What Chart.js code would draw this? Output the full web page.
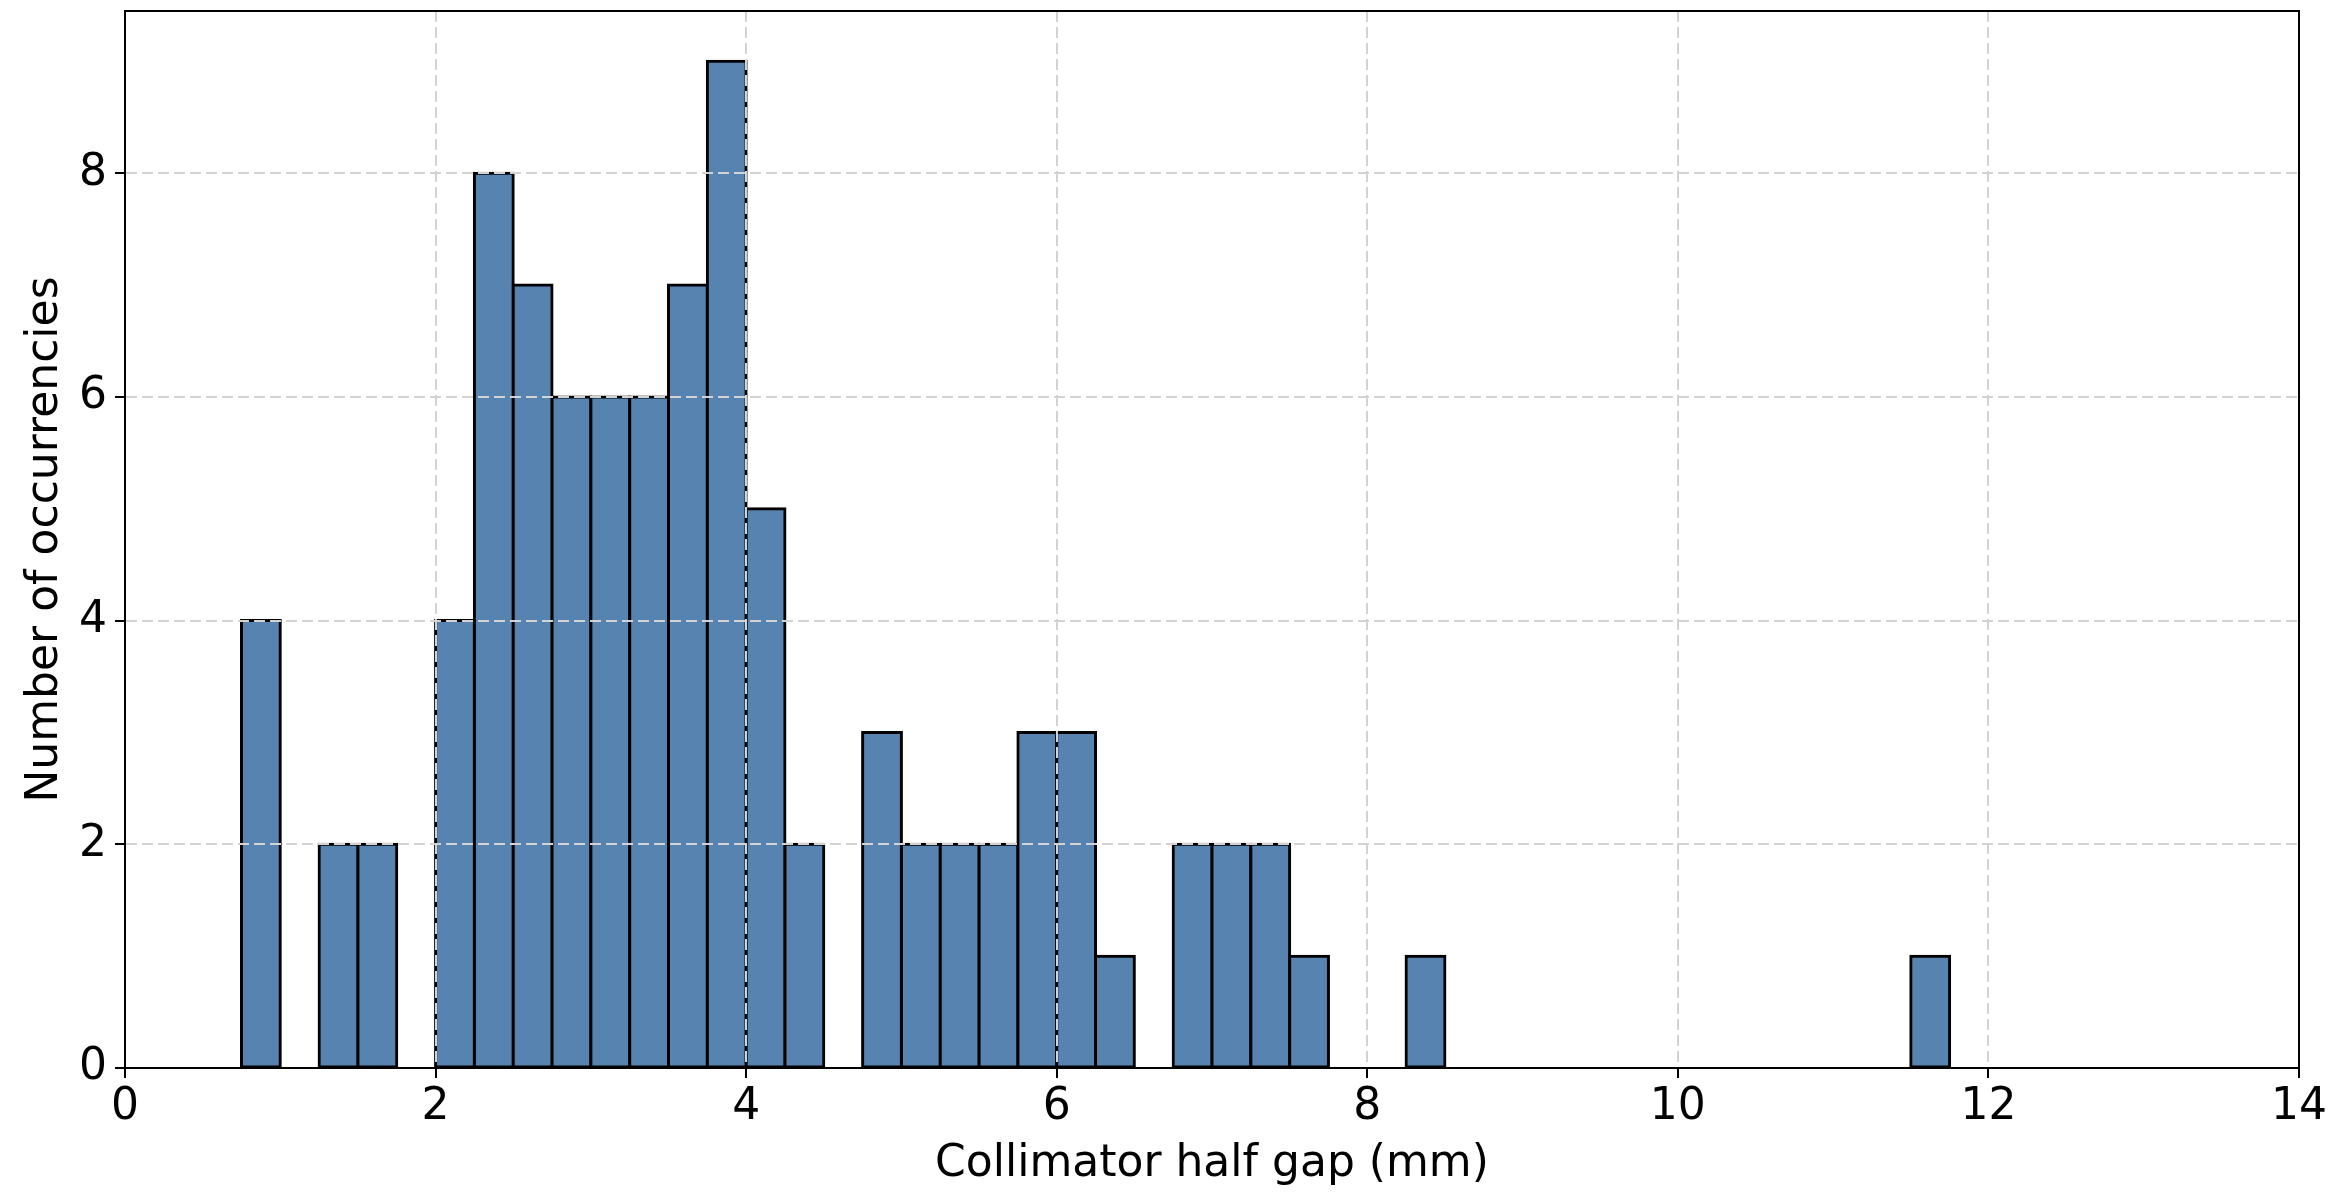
<!DOCTYPE html>
<html>
<head>
<meta charset="utf-8">
<script src="https://cdn.jsdelivr.net/npm/chart.js@4/dist/chart.umd.min.js"></script>
<style>
  html, body { margin: 0; padding: 0; background: #ffffff; }
  #wrap { width: 2330px; height: 1194px; }
</style>
</head>
<body>
<div id="wrap"><canvas id="c" width="2330" height="1194"></canvas></div>
<script>
// Histogram bins (width 0.25 mm), given by bin centres
const binCenters = [
  0.875, 1.125, 1.375, 1.625, 1.875, 2.125, 2.375, 2.625, 2.875, 3.125,
  3.375, 3.625, 3.875, 4.125, 4.375, 4.625, 4.875, 5.125, 5.375, 5.625,
  5.875, 6.125, 6.375, 6.625, 6.875, 7.125, 7.375, 7.625, 7.875, 8.125,
  8.375, 8.625, 8.875, 9.125, 9.375, 9.625, 9.875, 10.125, 10.375, 10.625,
  10.875, 11.125, 11.375, 11.625
];
const counts = [
  4, 0, 2, 2, 0, 4, 8, 7, 6, 6,
  6, 7, 9, 5, 2, 0, 3, 2, 2, 2,
  3, 3, 1, 0, 2, 2, 2, 1, 0, 0,
  1, 0, 0, 0, 0, 0, 0, 0, 0, 0,
  0, 0, 0, 1
];
const xTicks = [0, 2, 4, 6, 8, 10, 12, 14];
const yTicks = [0, 2, 4, 6, 8];
const xTitle = 'Collimator half gap (mm)';
const yTitle = 'Number of occurrencies';

const FONT = "'DejaVu Sans', 'Liberation Sans', sans-serif";
const points = binCenters.map((x, i) => ({ x: x, y: counts[i] }));

const framePlugin = {
  id: 'frame',
  afterDraw(chart) {
    const a = chart.chartArea, ctx = chart.ctx;
    ctx.save();
    ctx.strokeStyle = '#000000';
    ctx.lineWidth = 2;
    ctx.setLineDash([]);
    ctx.strokeRect(a.left, a.top, a.right - a.left, a.bottom - a.top);
    ctx.restore();
  }
};

new Chart(document.getElementById('c'), {
  type: 'bar',
  data: {
    datasets: [{
      data: points,
      backgroundColor: '#5683b0',
      borderColor: '#000000',
      borderWidth: 3,
      borderSkipped: false,
      inflateAmount: 1.5,
      barPercentage: 1.0,
      categoryPercentage: 1.0
    }]
  },
  options: {
    responsive: false,
    animation: false,
    devicePixelRatio: 1,
    layout: { padding: { top: 11, right: 31, left: 0, bottom: 0 } },
    plugins: { legend: { display: false }, tooltip: { enabled: false } },
    scales: {
      x: {
        type: 'linear',
        min: 0, max: 14,
        offset: false,
        afterBuildTicks(scale) { scale.ticks = xTicks.map(v => ({ value: v })); },
        afterFit(scale) { scale.height = 126; scale.paddingLeft = 0; scale.paddingRight = 0; },
        ticks: {
          font: { family: FONT, size: 44, lineHeight: 1.2 },
          color: '#000000',
          padding: 3,
          maxRotation: 0,
          autoSkip: false
        },
        grid: {
          z: 1,
          offset: false,
          color: '#d3d3d3',
          lineWidth: 2,
          drawTicks: true,
          tickLength: 10,
          tickColor: '#000000',
          tickWidth: 2
        },
        border: { display: true, z: 1, color: '#000000', width: 2, dash: [11, 5] },
        title: {
          display: true,
          text: xTitle,
          color: '#000000',
          font: { family: FONT, size: 44, lineHeight: 1 },
          padding: { top: 0, bottom: 7 }
        }
      },
      y: {
        type: 'linear',
        min: 0, max: 9.45,
        afterBuildTicks(scale) { scale.ticks = yTicks.map(v => ({ value: v })); },
        afterFit(scale) { scale.width = 125; scale.paddingTop = 0; scale.paddingBottom = 0; },
        ticks: {
          font: { family: FONT, size: 44, lineHeight: 1.2 },
          color: '#000000',
          padding: 8,
          autoSkip: false
        },
        grid: {
          z: 1,
          color: '#d3d3d3',
          lineWidth: 2,
          drawTicks: true,
          tickLength: 10,
          tickColor: '#000000',
          tickWidth: 2
        },
        border: { display: true, z: 1, color: '#000000', width: 2, dash: [11, 5] },
        title: {
          display: true,
          text: yTitle,
          color: '#000000',
          font: { family: FONT, size: 44, lineHeight: 1 },
          padding: { top: 24, bottom: 0 }
        }
      }
    }
  },
  plugins: [framePlugin]
});
</script>
</body>
</html>
